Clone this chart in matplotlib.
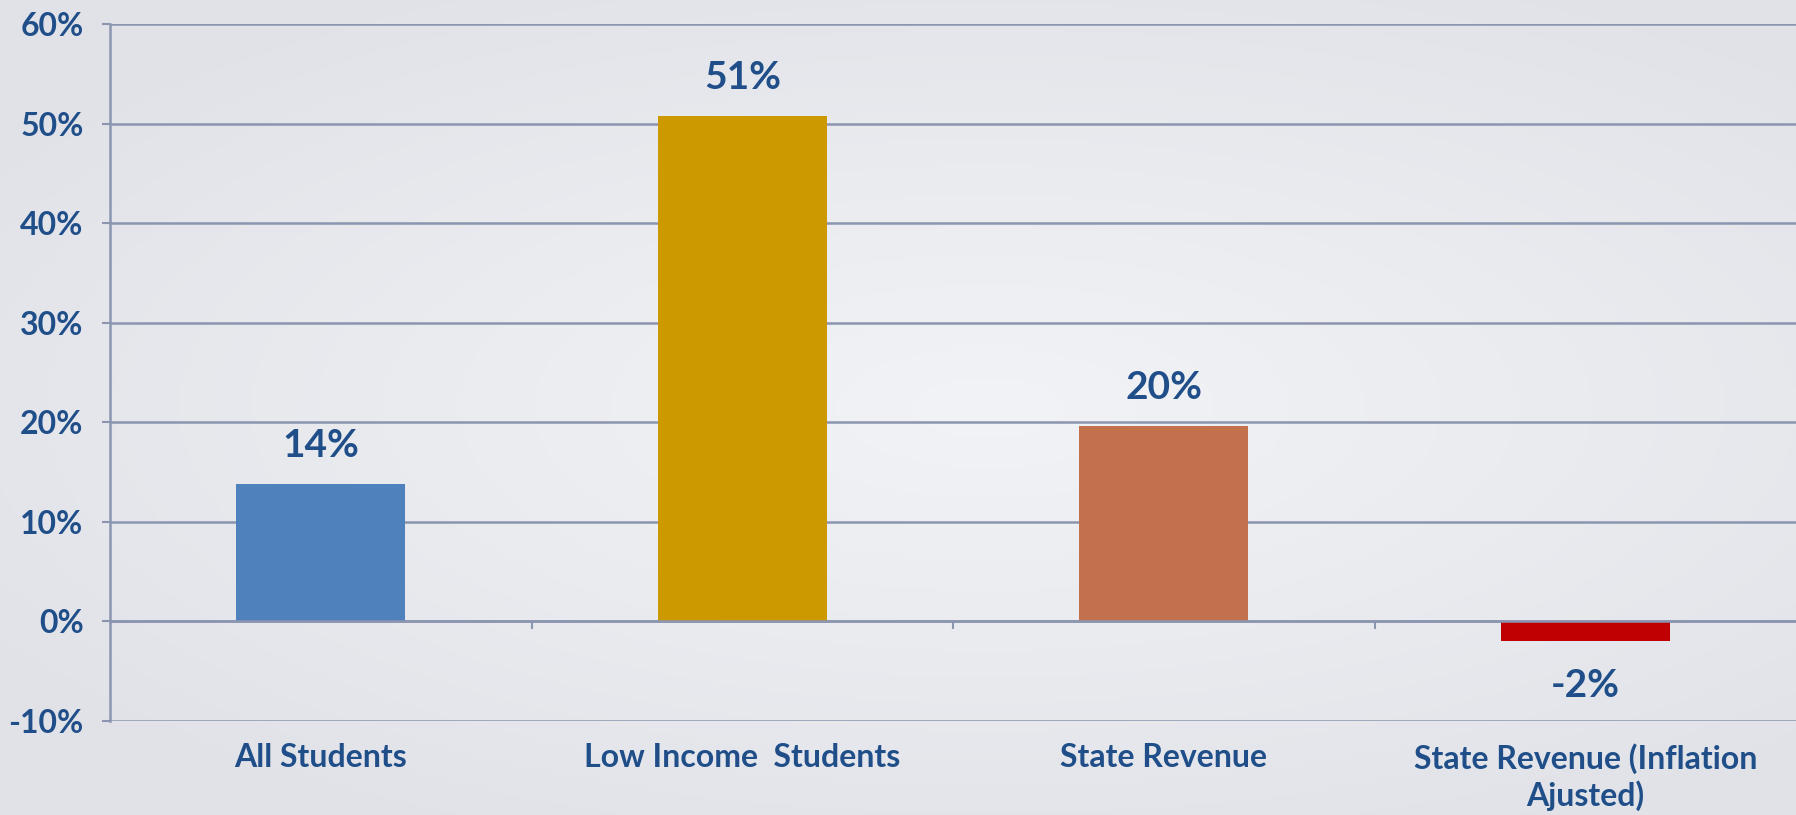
import numpy as np
from matplotlib import pyplot as plt
from matplotlib.ticker import FuncFormatter

# change in funding, percent
categories = ["All Students", "Low Income  Students", "State Revenue",
              "State Revenue (Inflation\nAjusted)"]
values = [13.8, 50.8, 19.6, -2.0]
value_labels = ["14%", "51%", "20%", "-2%"]
bar_colors = ["#4f81bd", "#cc9900", "#c3714c", "#c00000"]
y_ticks = [-10, 0, 10, 20, 30, 40, 50, 60]

text_color = "#1f4e89"
line_color = "#8b95b0"

plt.rcParams['font.family'] = ['Lato', 'DejaVu Sans']

fig = plt.figure(figsize=(17.96, 8.15), dpi=100)

# soft light background, brighter in the middle
bg = fig.add_axes([0, 0, 1, 1], zorder=-10)
yy, xx = np.mgrid[0:1:200j, 0:1:400j]
dist = np.sqrt(((xx - 0.55) / 0.9) ** 2 + ((yy - 0.5) / 0.8) ** 2)
bg.imshow(dist, cmap=plt.matplotlib.colors.LinearSegmentedColormap.from_list(
    "bg", ["#f2f3f6", "#e9ebef", "#e0e2e8"]), aspect='auto',
    extent=[0, 1, 0, 1], vmin=0, vmax=0.75)
bg.axis('off')

ax = fig.add_axes([110 / 1796, 1 - 721 / 815, 1 - 110 / 1796, (721 - 24) / 815])
ax.patch.set_alpha(0)

x = np.arange(len(categories))
ax.bar(x, values, width=0.4, color=bar_colors, zorder=3)

ax.set_xlim(-0.5, 3.5)
ax.set_ylim(-10, 60)
ax.set_yticks(y_ticks)
ax.yaxis.set_major_formatter(FuncFormatter(lambda v, p: "{:.0f}%".format(v)))
ax.grid(axis='y', color=line_color, lw=1.8, zorder=1)
ax.set_axisbelow(True)

for s in ['top', 'right']:
    ax.spines[s].set_visible(False)
ax.spines['left'].set_color(line_color)
ax.spines['left'].set_linewidth(1.8)
ax.spines['bottom'].set_position(('data', 0))
ax.spines['bottom'].set_color(line_color)
ax.spines['bottom'].set_linewidth(1.8)
ax.spines['bottom'].set_zorder(4)

ax.set_xticks([])
ax.set_xticks([0.5, 1.5, 2.5], minor=True)
ax.tick_params(axis='x', which='minor', length=6, width=1.5, color=line_color,
               direction='out')
ax.tick_params(axis='y', length=6, width=1.5, color=line_color, pad=13,
               labelsize=23, labelcolor=text_color)
for lab in ax.get_yticklabels():
    lab.set_fontweight('bold')

# category names under the chart
for i, name in enumerate(categories):
    ax.annotate(name, xy=(i, -10), xytext=(0, -16), textcoords='offset points',
                ha='center', va='top', fontsize=23, fontweight='bold',
                color=text_color, linespacing=1.25)

# value labels
for i, (v, lab) in enumerate(zip(values, value_labels)):
    off = 15 if v >= 0 else -19
    ax.annotate(lab, xy=(i, v), xytext=(0, off), textcoords='offset points',
                ha='center', va='bottom' if v >= 0 else 'top', fontsize=28,
                fontweight='bold', color=text_color)

plt.savefig("out.png", dpi=100)
